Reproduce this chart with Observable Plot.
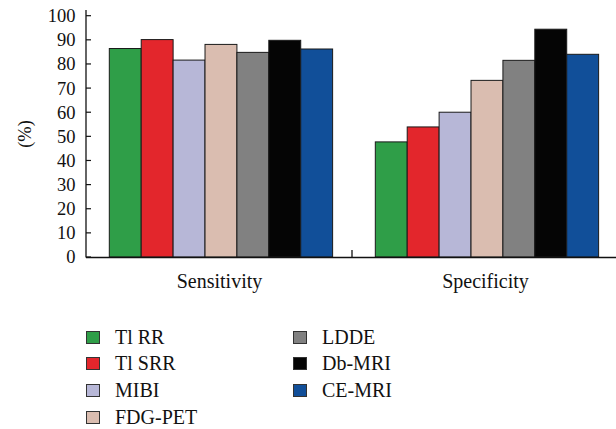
<!DOCTYPE html>
<html><head><meta charset="utf-8">
<script src="https://cdn.jsdelivr.net/npm/d3@7"></script>
<script src="https://cdn.jsdelivr.net/npm/@observablehq/plot@0.6"></script>
<style>
body{margin:0;background:#fff;font-family:"Liberation Serif","Times New Roman",Times,serif;color:#111}
#chart{position:relative;width:616px;height:429px;overflow:hidden}
#chart svg{display:block;overflow:hidden}
.legend{position:absolute;top:323.7px;left:86px;width:520px;height:110px}
.col{position:absolute;top:0;display:flex;flex-direction:column}
.item{height:26.7px;display:flex;align-items:center;font-size:20px;white-space:nowrap}
.sw{display:inline-block;width:12px;height:11px;border:1px solid #333;margin-right:15px;flex:none}
</style></head><body><div id="chart"></div><script>
const methods = ["Tl RR","Tl SRR","MIBI","FDG-PET","LDDE","Db-MRI","CE-MRI"];
const groups = ["Sensitivity","Specificity"];
const sensitivity = [86.4,90.1,81.6,88.1,84.8,89.8,86.2];
const specificity = [47.7,53.9,60.0,73.2,81.5,94.4,84.0];
const colors = ["#2f9e48","#e3262c","#b7b7d7","#dabdb0","#818181","#050505","#114f99"];
const yTicks = [0,10,20,30,40,50,60,70,80,90,100];
const legendCol1 = ["Tl RR","Tl SRR","MIBI","FDG-PET"];
const legendCol2 = ["LDDE","Db-MRI","CE-MRI"];

const data = [
  ...methods.map((m,i)=>({group:groups[0], method:m, value:sensitivity[i]})),
  ...methods.map((m,i)=>({group:groups[1], method:m, value:specificity[i]}))
];

const FONT = '"Liberation Serif","Times New Roman",Times,serif';

const plot = Plot.plot({
  width:616, height:305,
  marginLeft:86, marginRight:-2, marginTop:10, marginBottom:48,
  style:{fontFamily:FONT, color:"#111", background:"transparent"},
  fx:{domain:groups, padding:0, label:null, round:false},
  x:{domain:methods, paddingInner:0, paddingOuter:0.669, align:0.546, axis:null, round:false},
  y:{domain:[0,102.36]},
  color:{domain:methods, range:colors},
  marks:[
    Plot.barY(data,{fx:"group", x:"method", y:"value", fill:"method", stroke:"#1a1a1a", strokeWidth:1}),
    Plot.ruleY([0],{stroke:"#111", strokeWidth:1.3}),
    Plot.axisY({ticks:yTicks, tickSize:0, tickPadding:11, fontSize:18.5, label:"(%)", labelAnchor:"center", labelArrow:"none", labelOffset:69}),
    Plot.axisFx({anchor:"bottom", tickSize:0, tickPadding:16, fontSize:20, label:null})
  ]
});

const svg = d3.select(plot);
svg.style("font-family", FONT);
const y = plot.scale("y"), fx = plot.scale("fx");
const yr = y.range;
const left = fx.apply(groups[0]);
// y-axis line and inward tick marks
svg.append("line").attr("x1",left).attr("x2",left).attr("y1",yr[1]).attr("y2",yr[0]+0.6)
  .attr("stroke","#111").attr("stroke-width",1.3);
yTicks.forEach(t=>{
  const yy = y.apply(t);
  svg.append("line").attr("x1",left).attr("x2",left+5).attr("y1",yy).attr("y2",yy)
    .attr("stroke","#111").attr("stroke-width",1.2);
});
// group boundary tick on the x axis
const mid = fx.apply(groups[1]);
svg.append("line").attr("x1",mid).attr("x2",mid).attr("y1",yr[0]-7).attr("y2",yr[0])
  .attr("stroke","#111").attr("stroke-width",1.3);

const chart = document.getElementById("chart");
chart.appendChild(plot);

const legend = document.createElement("div");
legend.className = "legend";
[[legendCol1,0],[legendCol2,207]].forEach(([items,x])=>{
  const col = document.createElement("div");
  col.className = "col";
  col.style.left = x + "px";
  items.forEach(name=>{
    const it = document.createElement("div");
    it.className = "item";
    const sw = document.createElement("span");
    sw.className = "sw";
    sw.style.background = colors[methods.indexOf(name)];
    it.appendChild(sw);
    it.appendChild(document.createTextNode(name));
    col.appendChild(it);
  });
  legend.appendChild(col);
});
chart.appendChild(legend);
</script></body></html>
